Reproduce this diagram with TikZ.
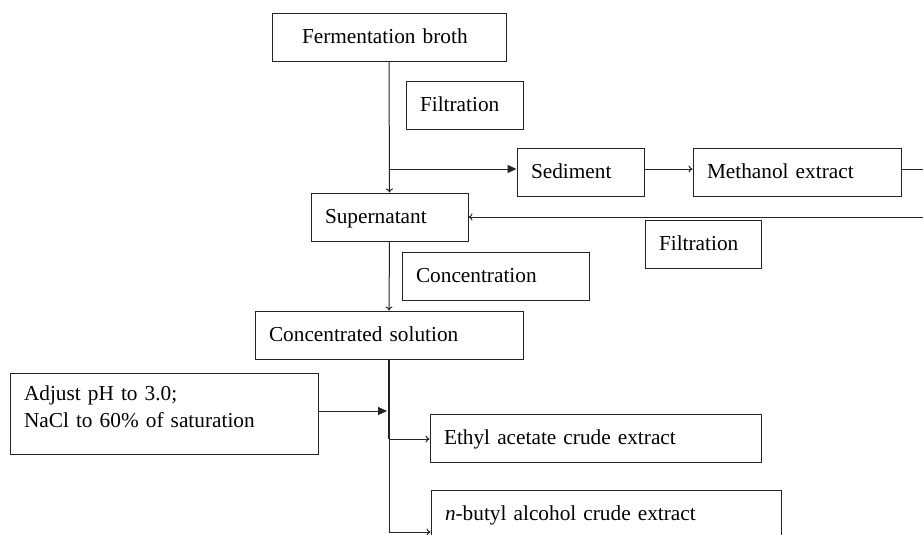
\documentclass[tikz,border=0pt]{standalone}
\usepackage{fontspec}
\setmainfont{Liberation Serif}
\usetikzlibrary{arrows.meta}
\definecolor{lc}{RGB}{35,35,35}
\begin{document}
\begin{tikzpicture}[x=1pt,y=-1pt,
  every node/.style={font=\fontsize{21.3}{27}\selectfont},
  box/.style={draw=lc, line width=1pt, align=left, inner xsep=14pt, inner ysep=0pt,
              text height=15pt, text depth=3pt, minimum height=48pt},
  conn/.style={draw=lc, line width=1pt},
  openarr/.style={conn, -{To[length=4pt,width=7pt]}},
  solidarr/.style={conn, -{Triangle[length=9pt,width=8pt]}},
]
\fill[white] (0,0) rectangle (923,535);
\useasboundingbox (0,0) rectangle (923,535);

\node[box, text width=174pt, inner xsep=30pt] (ferm) at (389,37.5) {Fermentation broth};
\node[box, text width=89pt]  (filt1) at (464.5,105) {Filtration};
\node[box, text width=99pt]  (sed)   at (580.5,172) {Sediment};
\node[box, text width=180pt] (meth)  at (797,172)   {Methanol extract};
\node[box, text width=129pt] (sup)   at (389.5,217) {Supernatant};
\node[box, text width=88pt]  (filt2) at (703,244)   {Filtration};
\node[box, text width=159pt] (conc)  at (495.5,276) {Concentration};
\node[box, text width=240pt] (csol)  at (389,335)   {Concentrated solution};
\node[box, text width=280pt, minimum height=81pt, text height=6pt, text depth=33pt]
      (adj) at (164,413.5) {Adjust pH to 3.0;\\NaCl to 60\% of saturation};
\node[box, text width=303pt] (eth)   at (595.5,438) {Ethyl acetate crude extract};
\node[box, text width=322pt] (but)   at (606,514)   {\textit{n}-butyl alcohol crude extract};

% connectors
\draw[openarr] (ferm.south) -- (sup.north);
\coordinate (br1) at ([yshift=3pt]sed.west);
\draw[solidarr] (br1 -| ferm.south) -- (br1);
\draw[openarr] ([yshift=3pt]sed.east) -- ([yshift=3pt]meth.west);
\coordinate (mr) at (923,169);
\draw[conn] ([yshift=3pt]meth.east) -- (mr);
\coordinate (rr) at (923,217);
\draw[openarr] (rr) -- (sup.east);
\draw[openarr] (sup.south) -- (csol.north);
\coordinate (j1) at (389,439);
\coordinate (j2) at (389,532);
\draw[conn, line width=2.4pt] (csol.south) -- (j1);
\draw[conn] (j1) -- (j2);
\draw[openarr] (j1) -- (j1 -| eth.west);
\draw[openarr] (j2) -- (j2 -| but.west);
\coordinate (ja) at (387,411);
\draw[solidarr] (adj.east |- ja) -- (ja);
\end{tikzpicture}
\end{document}
